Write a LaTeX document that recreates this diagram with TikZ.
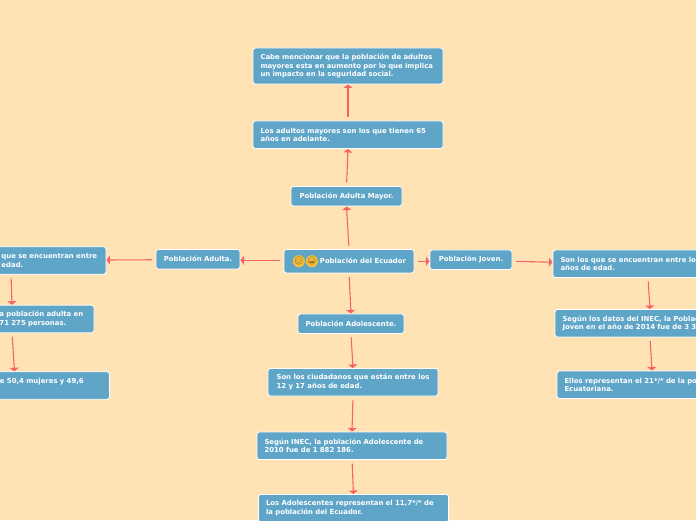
\documentclass[tikz,border=0pt]{standalone}
\usepackage{fontspec}
\setmainfont{DejaVu Sans}
\newfontfamily\emojifont{Noto Emoji}
\usetikzlibrary{arrows.meta,positioning}
\definecolor{sand}{HTML}{FFE3B4}
\definecolor{sea}{HTML}{5FA5C8}
\definecolor{coral}{HTML}{F9616A}
\definecolor{gold}{HTML}{F2BE3C}
\definecolor{umber}{HTML}{5A3A10}

\begin{document}
\begin{tikzpicture}[x=1pt,y=1pt,
  box/.style={draw=white,line width=.8pt,rounded corners=2.5pt,fill=sea,text=white,
    inner xsep=7.5pt,inner ysep=2pt,align=left,outer sep=0pt,
    font=\fontsize{6.9}{8.6}\selectfont\bfseries},
  single/.style={minimum height=19.5pt},
  double/.style={minimum height=27.5pt},
  triple/.style={minimum height=36pt},
  wide/.style={text width=175pt},
  face/.style={circle,fill=gold,inner sep=0pt,minimum size=11.5pt,text=umber,
    font=\emojifont\fontsize{7.5}{8}\selectfont},
  arr/.style={-{Triangle[length=3.5pt,width=9pt]},line width=1.1pt,coral,
    shorten <=4pt,shorten >=.5pt}]
\useasboundingbox (0,0) rectangle (696,520);
\fill[sand] (0,0) rectangle (696,520);
\node[box,minimum height=23.5pt,minimum width=130pt] (root) at (349,258.75) {\hspace*{28pt}Población del Ecuador};
\node[face,right=8.5pt of root.west] (faceA) {😊};
\node[face,right=.5pt of faceA] (faceB) {😄};
% arriba
\node[box,single,minimum width=111pt,above=43.5pt of root,xshift=-2.5pt] (mayor) {Población Adulta Mayor.};
\node[box,double,wide,above=38pt of mayor,xshift=1.5pt] (mayorEdad) {Los adultos mayores son los que tienen 65\\años en adelante.};
\node[box,triple,wide,above=37pt of mayorEdad] (mayorNota) {Cabe mencionar que la población de adultos\\mayores esta en aumento por lo que implica\\un impacto en la seguridad social.};
% abajo
\node[box,single,minimum width=106pt,below=41pt of root,xshift=2pt] (adol) {Población Adolescente.};
\node[box,double,minimum width=170pt,below=35pt of adol,xshift=2pt] (adolEdad) {Son los ciudadanos que están entre los\\12 y 17 años de edad.};
\node[box,double,wide,below=36pt of adolEdad,xshift=-1pt] (adolInec) {Según INEC, la población Adolescente de\\2010 fue de 1 882 186.};
\node[box,double,wide,below=35pt of adolInec,xshift=1.5pt] (adolNota) {Los Adolescentes representan el 11,7*/* de\\la población del Ecuador.};
% izquierda
\node[box,single,minimum width=84pt,left=44pt of root,yshift=2pt] (adulta) {Población Adulta.};
\node[box,double,wide,left=50pt of adulta,yshift=-1.25pt] (adultaEdad) {\hspace*{78pt}que se encuentran entre\\\hspace*{78pt}edad.};
\node[box,double,text width=149pt,below=31pt of adultaEdad,xshift=1pt] (adultaInec) {\hspace*{62pt}a población adulta en\\\hspace*{62pt}71 275 personas.};
\node[box,double,wide,below=39pt of adultaInec,xshift=2.5pt] (adultaNota) {\hspace*{73pt}e 50,4 mujeres y 49,6\\\mbox{}};
% derecha
\node[box,single,minimum width=82pt,right=16pt of root,yshift=1.5pt] (joven) {Población Joven.};
\node[box,double,wide,right=41pt of joven,yshift=-4pt] (jovenEdad) {Son los que se encuentran entre los\\años de edad.};
\node[box,double,wide,below=32pt of jovenEdad,xshift=2pt] (jovenInec) {Según los datos del INEC, la Población\\Joven en el año de 2014 fue de 3 3};
\node[box,double,wide,below=34pt of jovenInec,xshift=2pt] (jovenNota) {Ellos representan el 21*/* de la población\\Ecuatoriana.};
\draw[arr] (root.north)--(mayor.south);
\draw[arr] (mayor.north)--(mayorEdad.south);
\draw[arr] (mayorEdad.north)--(mayorNota.south);
\draw[arr] (root.south)--(adol.north);
\draw[arr] (adol.south)--(adolEdad.north);
\draw[arr] (adolEdad.south)--(adolInec.north);
\draw[arr] (adolInec.south)--(adolNota.north);
\draw[arr] ([yshift=1pt]root.west)--([yshift=-1pt]adulta.east);
\draw[arr] ([yshift=-.5pt]adulta.west)--([yshift=.5pt]adultaEdad.east);
\draw[arr] (adultaEdad.south)--(adultaInec.north);
\draw[arr] (adultaInec.south)--(adultaNota.north);
\draw[arr] (root.east)--([yshift=-1.5pt]joven.west);
\draw[arr] ([yshift=-1.5pt]joven.east)--([yshift=1.5pt]jovenEdad.west);
\draw[arr] (jovenEdad.south)--(jovenInec.north);
\draw[arr] (jovenInec.south)--(jovenNota.north);
\end{tikzpicture}
\end{document}
